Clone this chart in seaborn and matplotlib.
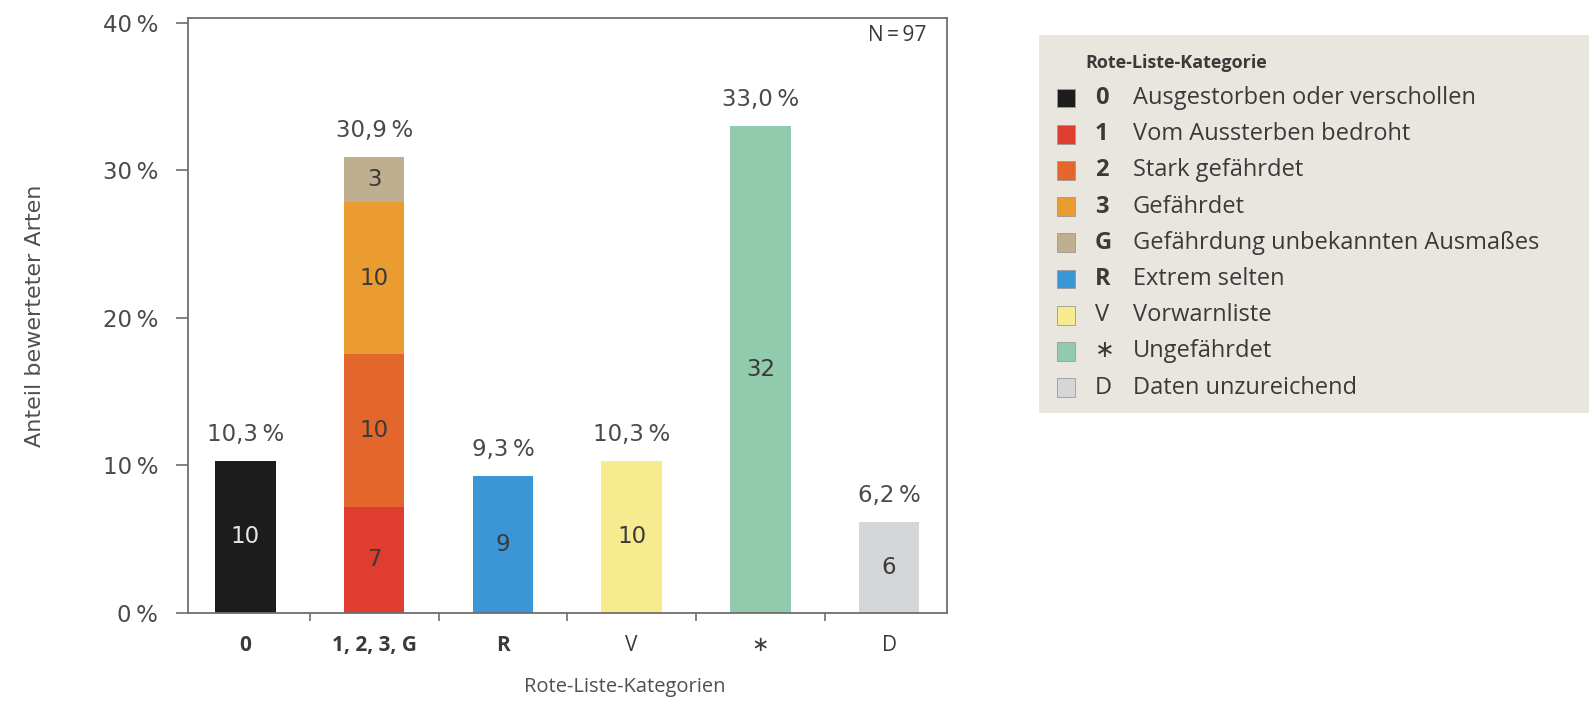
import numpy as np
import pandas as pd
import matplotlib
matplotlib.use("Agg")
import matplotlib.pyplot as plt
from matplotlib.ticker import FuncFormatter, FixedLocator
import seaborn as sns


# ==== Daten ====
categories = ["0", "1, 2, 3, G", "R", "V", "\u2217", "D"]
seg_codes = ["0", "1", "2", "3", "G", "R", "V", "\u2217", "D"]
seg_columns = ["0", "1, 2, 3, G", "1, 2, 3, G", "1, 2, 3, G", "1, 2, 3, G",
               "R", "V", "\u2217", "D"]
seg_counts = [10, 7, 10, 10, 3, 9, 10, 32, 6]
seg_names = ["Ausgestorben oder verschollen", "Vom Aussterben bedroht",
             "Stark gefährdet", "Gefährdet", "Gefährdung unbekannten Ausmaßes",
             "Extrem selten", "Vorwarnliste", "Ungefährdet", "Daten unzureichend"]
seg_colors = ["#1c1c1c", "#de3d2f", "#e3672d", "#eb9c31", "#bfae8f",
              "#3a96d5", "#f6eb8e", "#92caad", "#d5d6d8"]
bold_codes = ["0", "1", "2", "3", "G", "R"]
n_total = 97

TXT = "#3a3a3a"
NUMC = "#4a4a4a"
GRID = "#6e6e6e"
NUMFONT = "DejaVu Sans"

sns.set_theme(style="white")
plt.rcParams["font.family"] = ["Open Sans", "DejaVu Sans"]


def pct_str(v):
    return f"{v:.1f}".replace(".", ",") + "\u2009%"


# ==== Tabelle ====
seg = pd.DataFrame({"column": seg_columns, "code": seg_codes, "count": seg_counts})
seg["pct"] = seg["count"] / n_total * 100
seg["top"] = seg.groupby("column")["pct"].cumsum()
seg["mid"] = seg["top"] - seg["pct"] / 2
draw_order = seg.sort_values("top", ascending=False)["code"].tolist()
palette = dict(zip(seg_codes, seg_colors))

fig = plt.figure(figsize=(15.89, 7.01), dpi=100)
fig.patch.set_facecolor("white")
ax = fig.add_axes([0.118, 0.1255, 0.478, 0.8485])

sns.barplot(data=seg, x="column", y="top", hue="code", hue_order=draw_order,
            palette=palette, order=categories, dodge=False, width=0.47,
            saturation=1, errorbar=None, legend=False, linewidth=0, ax=ax)

# Segmentwerte in den Säulen
for _, r in seg.iterrows():
    xi = categories.index(r["column"])
    col = "#e6e6e6" if r["code"] == "0" else TXT
    ax.text(xi, r["mid"], str(r["count"]), ha="center", va="center",
            fontsize=16.5, color=col, family=NUMFONT)

# Summen über den Säulen
totals = seg.groupby("column", sort=False)["top"].max()
for col_name, tot in totals.items():
    xi = categories.index(col_name)
    ax.annotate(pct_str(tot), (xi, tot), xytext=(0, 19), textcoords="offset points",
                ha="center", va="center", fontsize=16.5, color=NUMC, family=NUMFONT)

ax.text(0.973, 0.971, "N\u2009=\u200997", transform=ax.transAxes, ha="right",
        va="center", fontsize=15, color=TXT)

# Achsen
ax.set_xlim(-0.45, 5.45)
ax.set_ylim(0, 40.3)
ax.yaxis.set_major_locator(FixedLocator([0, 10, 20, 30, 40]))
ax.yaxis.set_major_formatter(FuncFormatter(lambda v, p: f"{v:.0f}\u2009%"))
ax.xaxis.set_minor_locator(FixedLocator([0.5, 1.5, 2.5, 3.5, 4.5]))
ax.tick_params(axis="y", which="major", direction="out", length=9, width=1.2,
               color=GRID, pad=12, labelcolor=NUMC, left=True)
ax.tick_params(axis="x", which="major", length=0, pad=16, labelsize=15,
               labelcolor=TXT)
ax.tick_params(axis="x", which="minor", direction="out", length=6, width=1.2,
               color=GRID, bottom=True)
for lbl in ax.get_yticklabels():
    lbl.set_family(NUMFONT)
    lbl.set_fontsize(16.5)
for lbl in ax.get_xticklabels():
    if lbl.get_text() in ["0", "1, 2, 3, G", "R"]:
        lbl.set_fontweight("bold")
for s in ax.spines.values():
    s.set_visible(True)
    s.set_color(GRID)
    s.set_linewidth(1.3)

ax.set_xlabel("Rote-Liste-Kategorien", fontsize=14.5, color="#505050")
ax.xaxis.set_label_coords(0.576, -0.108)
ax.set_ylabel("Anteil bewerteter Arten", fontsize=16, color="#505050",
              family=["Liberation Sans Narrow", "DejaVu Sans"])
ax.yaxis.set_label_coords(-0.188, 0.5)

# ==== Legende ====
lg = fig.add_axes([1039 / 1589, 1 - 413 / 701, 550 / 1589, 378 / 701])
lg.set_facecolor("#e9e6e0")
lg.set_xlim(0, 550)
lg.set_ylim(378, 0)
lg.set_xticks([])
lg.set_yticks([])
for s in lg.spines.values():
    s.set_visible(False)

lg.text(46, 28, "Rote-Liste-Kategorie", fontsize=13, fontweight="bold",
        color=TXT, va="center", ha="left")
ys = 63 + 36.2 * np.arange(len(seg_codes))
lg.scatter(np.full(len(seg_codes), 27), ys, marker="s", s=185, c=seg_colors,
           edgecolors="#9a9a9a", linewidths=0.6)
for y, code, name in zip(ys, seg_codes, seg_names):
    lg.text(56, y, code, fontsize=17, va="center", ha="left", color=TXT,
            fontweight="bold" if code in bold_codes else "normal")
    lg.text(94, y, name, fontsize=17, va="center", ha="left", color=TXT)

fig.savefig("out.png", dpi=100, facecolor="white")
